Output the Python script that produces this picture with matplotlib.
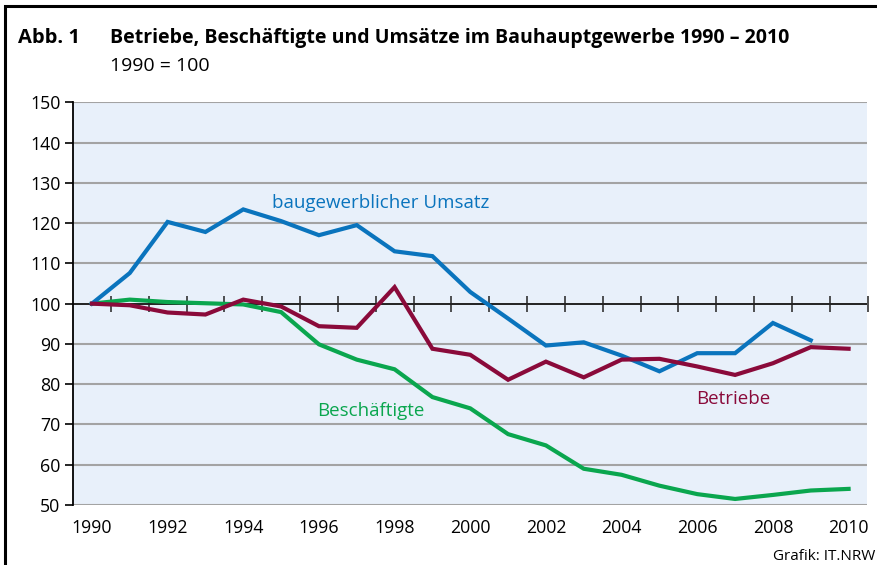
import numpy as np
import matplotlib
matplotlib.use('Agg')
import matplotlib.pyplot as plt
from matplotlib.patches import Rectangle

# data (1990 = 100)
years = list(range(1990, 2011))
umsatz = [100, 107.6, 120.3, 117.8, 123.4, 120.5, 117.0, 119.5, 113.0, 111.8,
          102.9, 96.3, 89.6, 90.4, 87.1, 83.2, 87.7, 87.7, 95.2, 90.9]
betriebe = [100, 99.6, 97.8, 97.3, 101.0, 99.3, 94.4, 94.0, 104.1, 88.8,
            87.3, 81.1, 85.6, 81.7, 86.1, 86.3, 84.4, 82.3, 85.2, 89.2, 88.8]
beschaeftigte = [100, 101.0, 100.4, 100.1, 99.8, 97.9, 89.9, 86.1, 83.7, 76.8,
                 74.0, 67.6, 64.8, 59.0, 57.5, 54.8, 52.7, 51.5, 52.5, 53.6, 54.0]
ytick_vals = list(range(50, 151, 10))
xtick_vals = list(range(1990, 2011, 2))

c_blue = '#0a74bd'
c_red = '#8a0a3a'
c_green = '#0aa64e'

plt.rcParams['font.family'] = ['Open Sans', 'DejaVu Sans']

fig = plt.figure(figsize=(8.78, 5.65), dpi=100)
ax = fig.add_axes([73 / 878, 1 - 505 / 565, (867.5 - 73) / 878, (505 - 102.3) / 565])
ax.set_facecolor('#e8f0fa')

# frame round the figure (right and bottom cut off)
fig.patches.append(Rectangle((5.5 / 878, -0.1), 1.2, 1 - 5.5 / 565 + 0.1,
                             transform=fig.transFigure, fill=False,
                             edgecolor='black', linewidth=2.2))

ax.set_xlim(1989.5, 2010.5)
ax.set_ylim(50, 150)

for v in ytick_vals:
    if v == 100:
        continue
    ax.axhline(v, color='#a3a3a3', lw=1.5, zorder=1)
ax.axhline(100, color='#222222', lw=1.4, zorder=2)

ax.plot(years[:len(umsatz)], umsatz, color=c_blue, lw=3.0, zorder=5, solid_joinstyle='miter')
ax.plot(years, beschaeftigte, color=c_green, lw=3.0, zorder=4, solid_joinstyle='miter')
ax.plot(years, betriebe, color=c_red, lw=3.0, zorder=5, solid_joinstyle='miter')

for s in ['top', 'right', 'bottom']:
    ax.spines[s].set_visible(False)
ax.spines['left'].set_color('black')
ax.spines['left'].set_linewidth(1.3)

ax.set_yticks(ytick_vals)
ax.tick_params(axis='y', length=6, width=1.2, direction='out', labelsize=12.8, pad=3)
ax.set_xticks(xtick_vals)
ax.tick_params(axis='x', length=0, labelsize=12.8, pad=10)

# tick marks on the 100 line
sec = ax.secondary_xaxis(0.5)
sec.set_xticks([y + 0.5 for y in years])
sec.tick_params(axis='x', direction='inout', length=12, width=1.1, labelbottom=False,
                labeltop=False, color='#222222')
sec.spines['bottom'].set_visible(False)
sec.spines['top'].set_visible(False)

ax.text(1994.76, 125, 'baugewerblicher Umsatz', color=c_blue, fontsize=13.5, va='center', ha='left')
ax.text(1995.94, 73.4, 'Beschäftigte', color=c_green, fontsize=13.5, va='center', ha='left')
ax.text(2005.98, 76.4, 'Betriebe', color=c_red, fontsize=13.5, va='center', ha='left')

fig.text(18 / 878, 1 - 38 / 565, 'Abb. 1', fontsize=14.5, fontweight='bold', va='center', ha='left')
fig.text(110 / 878, 1 - 38 / 565, 'Betriebe, Beschäftigte und Umsätze im Bauhauptgewerbe 1990 – 2010',
         fontsize=14, fontweight='bold', va='center', ha='left')
fig.text(110 / 878, 1 - 66 / 565, '1990 = 100', fontsize=14, va='center', ha='left')
fig.text(773 / 878, 1 - 557 / 565, 'Grafik: IT.NRW', fontsize=11, va='center', ha='left')

fig.savefig('out.png', dpi=100)
